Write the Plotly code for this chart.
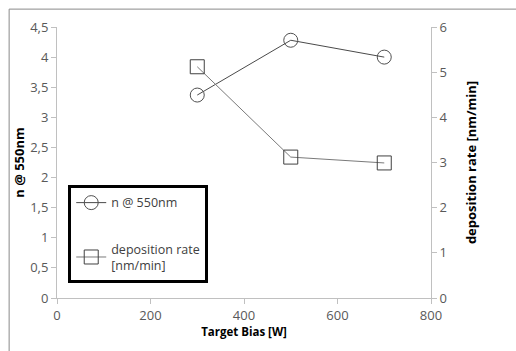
import plotly.graph_objects as go

bias = [300, 500, 700]
n_550 = [3.37, 4.28, 4.0]
dep_rate = [5.12, 3.12, 2.99]

FONT = "Open Sans"
fig = go.Figure()
fig.add_trace(go.Scatter(
    x=bias, y=n_550, name="n @ 550nm", mode="lines+markers",
    line=dict(color="#4a4a4a", width=1),
    marker=dict(symbol="circle-open", size=14, color="#505050", line=dict(width=1)),
    legendgroup="a",
))
fig.add_trace(go.Scatter(
    x=bias, y=dep_rate, name="deposition rate<br>[nm/min]", mode="lines+markers",
    line=dict(color="#7a7a7a", width=1),
    marker=dict(symbol="square-open", size=14, color="#404040", line=dict(width=1)),
    yaxis="y2", legendgroup="b",
))

axis_common = dict(showgrid=False, zeroline=False, showline=True, linecolor="#c0c0c0",
                   linewidth=1, ticks="outside", ticklen=5, tickcolor="#c0c0c0",
                   tickfont=dict(family=FONT, size=13, color="#595959"))

fig.update_layout(
    width=516, height=351,
    margin=dict(l=57, r=85, t=27, b=53),
    paper_bgcolor="white", plot_bgcolor="white",
    separators=",.",
    showlegend=True,
    legend=dict(x=0.03, y=0.417, xanchor="left", yanchor="top",
                bordercolor="black", borderwidth=3, bgcolor="white",
                font=dict(family=FONT, size=12.5, color="#404040"),
                traceorder="grouped", tracegroupgap=27, itemwidth=30),
    xaxis=dict(range=[0, 800], dtick=200, **axis_common,
               title=dict(text="<b>Target Bias [W]</b>", standoff=4,
                          font=dict(family=FONT, size=11.5, color="black"))),
    yaxis=dict(range=[0, 4.5], dtick=0.5, **axis_common,
               title=dict(text="<b>n @ 550nm</b>", standoff=2,
                          font=dict(family=FONT, size=13, color="black"))),
    yaxis2=dict(range=[0, 6], dtick=1, overlaying="y", side="right", **axis_common,
                title=dict(text="<b>deposition rate [nm/min]</b>", standoff=20,
                           font=dict(family=FONT, size=13, color="black"))),
    shapes=[dict(type="rect", xref="paper", yref="paper",
                 x0=-0.128, x1=1.4, y0=-0.4, y1=1.066,
                 line=dict(color="#8a8a8a", width=1), fillcolor="rgba(0,0,0,0)",
                 layer="below")],
)

fig.write_html("out.html")
